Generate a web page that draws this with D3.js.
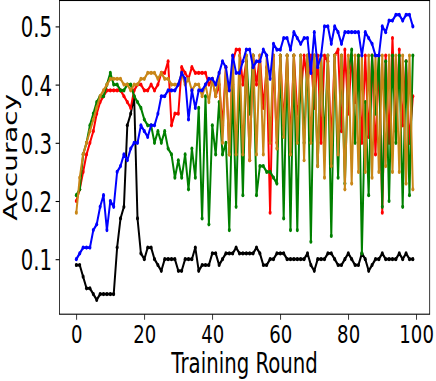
<!DOCTYPE html>
<html><head><meta charset="utf-8">
<script src="https://cdn.jsdelivr.net/npm/d3@7"></script>
<style>html,body{margin:0;padding:0;background:#fff;} svg{display:block;}</style>
</head><body>
<svg id="chart" width="436" height="381"></svg>
<script>
// ---- data (accuracy per training round, rounds 0..99) ----
const blue = [0.10,0.11,0.12,0.12,0.12,0.15,0.16,0.19,0.21,0.15,
  0.20,0.19,0.25,0.26,0.28,0.27,0.29,0.30,0.30,0.33,
  0.32,0.31,0.33,0.33,0.35,0.38,0.38,0.39,0.39,0.39,
  0.40,0.42,0.41,0.34,0.39,0.36,0.39,0.39,0.40,0.41,
  0.41,0.40,0.42,0.44,0.43,0.39,0.45,0.42,0.42,0.44,
  0.46,0.46,0.43,0.44,0.44,0.46,0.45,0.41,0.47,0.46,
  0.46,0.48,0.48,0.46,0.49,0.48,0.47,0.48,0.48,0.42,
  0.49,0.43,0.45,0.50,0.50,0.47,0.50,0.49,0.47,0.49,
  0.49,0.49,0.49,0.49,0.45,0.49,0.48,0.47,0.45,0.45,
  0.50,0.49,0.51,0.51,0.52,0.52,0.51,0.52,0.52,0.50];
const red = [0.20,0.22,0.25,0.28,0.30,0.32,0.35,0.37,0.38,0.39,
  0.39,0.39,0.39,0.39,0.38,0.37,0.36,0.39,0.40,0.40,
  0.39,0.39,0.40,0.39,0.40,0.42,0.42,0.44,0.33,0.35,
  0.35,0.43,0.42,0.41,0.43,0.42,0.42,0.42,0.42,0.40,
  0.41,0.38,0.40,0.33,0.43,0.28,0.44,0.46,0.46,0.40,
  0.44,0.27,0.45,0.40,0.45,0.36,0.43,0.18,0.45,0.30,
  0.45,0.33,0.45,0.30,0.45,0.35,0.38,0.45,0.40,0.45,
  0.36,0.45,0.30,0.45,0.44,0.30,0.45,0.46,0.32,0.46,
  0.35,0.45,0.37,0.45,0.30,0.45,0.31,0.45,0.28,0.45,
  0.18,0.45,0.30,0.48,0.32,0.46,0.33,0.44,0.30,0.38];
const green = [0.21,0.22,0.28,0.30,0.33,0.35,0.37,0.38,0.38,0.40,
  0.42,0.40,0.40,0.39,0.39,0.40,0.40,0.38,0.37,0.36,
  0.34,0.33,0.33,0.30,0.32,0.30,0.32,0.29,0.28,0.24,
  0.27,0.24,0.28,0.22,0.29,0.24,0.36,0.17,0.38,0.16,
  0.33,0.28,0.37,0.28,0.30,0.15,0.40,0.19,0.42,0.21,
  0.45,0.35,0.45,0.21,0.26,0.26,0.25,0.25,0.24,0.23,
  0.45,0.17,0.45,0.15,0.45,0.15,0.45,0.30,0.45,0.13,
  0.45,0.26,0.45,0.30,0.45,0.14,0.45,0.24,0.45,0.23,
  0.42,0.46,0.30,0.45,0.11,0.37,0.21,0.45,0.35,0.45,
  0.19,0.44,0.20,0.45,0.30,0.45,0.19,0.44,0.21,0.45];
const orange = [0.18,0.24,0.28,0.30,0.32,0.34,0.36,0.38,0.39,0.40,
  0.41,0.41,0.41,0.41,0.40,0.40,0.39,0.40,0.40,0.41,
  0.41,0.42,0.42,0.42,0.41,0.42,0.41,0.41,0.40,0.40,
  0.40,0.42,0.40,0.41,0.39,0.40,0.40,0.38,0.40,0.37,
  0.41,0.38,0.42,0.30,0.43,0.28,0.45,0.28,0.45,0.28,
  0.45,0.27,0.45,0.28,0.45,0.28,0.45,0.30,0.45,0.29,
  0.45,0.31,0.45,0.28,0.45,0.30,0.45,0.27,0.45,0.30,
  0.45,0.26,0.45,0.24,0.45,0.26,0.45,0.28,0.45,0.22,
  0.45,0.23,0.45,0.25,0.45,0.25,0.45,0.24,0.45,0.25,
  0.45,0.26,0.45,0.25,0.45,0.25,0.45,0.23,0.45,0.22];
const black = [0.09,0.09,0.07,0.05,0.05,0.04,0.03,0.04,0.04,0.04,
  0.04,0.04,0.12,0.17,0.19,0.33,0.35,0.38,0.17,0.11,
  0.10,0.12,0.12,0.10,0.09,0.08,0.10,0.10,0.10,0.10,
  0.08,0.08,0.10,0.10,0.10,0.12,0.08,0.09,0.09,0.09,
  0.11,0.11,0.09,0.10,0.11,0.11,0.11,0.12,0.11,0.11,
  0.11,0.11,0.11,0.12,0.11,0.09,0.09,0.10,0.10,0.11,
  0.11,0.11,0.10,0.10,0.10,0.10,0.10,0.10,0.11,0.09,
  0.08,0.10,0.10,0.10,0.11,0.11,0.10,0.09,0.09,0.10,
  0.11,0.10,0.09,0.09,0.11,0.10,0.08,0.09,0.10,0.10,
  0.11,0.10,0.10,0.10,0.10,0.11,0.10,0.11,0.10,0.10];
const xTicks = [0, 20, 40, 60, 80, 100];
const yTicks = [0.1, 0.2, 0.3, 0.4, 0.5];
const xLabel = "Training Round";
const yLabel = "Accuracy";

// ---- layout (figure drawn in a wider space then squeezed horizontally) ----
const SX = 0.71;
const pLeft = 59.5 / SX, pRight = 429.7 / SX, pTop = 0.5, pBottom = 314.2;
const FONT = "DejaVu Sans";
const FS = 27.8;
const FSX = 25.5;

const svg = d3.select("#chart");
svg.append("rect").attr("width", 436).attr("height", 381).attr("fill", "#fff");
const g = svg.append("g").attr("transform", `scale(${SX},1)`);

const n = blue.length;
const xPad = (n - 1) * 0.05;
const x = d3.scaleLinear().domain([0 - xPad, (n - 1) + xPad]).range([pLeft, pRight]);
const all = [].concat(blue, red, green, orange, black);
const [mn, mx] = d3.extent(all);
const yPad = (mx - mn) * 0.05;
const y = d3.scaleLinear().domain([mn - yPad, mx + yPad]).range([pBottom, pTop]);

const series = [
  {vals: black, color: "#000000"},
  {vals: red, color: "#ff0000"},
  {vals: green, color: "#008000"},
  {vals: orange, color: "#c98718"},
  {vals: blue, color: "#0000ff"}
];

const clipId = "plotclip";
g.append("clipPath").attr("id", clipId).append("rect")
  .attr("x", pLeft).attr("y", pTop).attr("width", pRight - pLeft).attr("height", pBottom - pTop);

const line = d3.line().x((d, i) => x(i)).y(d => y(d));
const plot = g.append("g").attr("clip-path", `url(#${clipId})`);
series.forEach(s => {
  plot.append("path").datum(s.vals)
    .attr("d", line)
    .attr("fill", "none")
    .attr("stroke", s.color)
    .attr("stroke-width", 2.78)
    .attr("stroke-linejoin", "round")
    .attr("stroke-linecap", "square");
  plot.append("g").selectAll("circle").data(s.vals).join("circle")
    .attr("cx", (d, i) => x(i)).attr("cy", d => y(d)).attr("r", 2.1)
    .attr("fill", s.color);
});

// spines
g.append("rect").attr("x", pLeft).attr("y", pTop).attr("width", pRight - pLeft).attr("height", pBottom - pTop)
  .attr("fill", "none").attr("stroke", "#000").attr("stroke-width", 1.1);

// x axis
const xAxis = d3.axisBottom(x).tickValues(xTicks).tickSize(5.5).tickPadding(4.9).tickFormat(d3.format("d"));
const gx = g.append("g").attr("transform", `translate(0,${pBottom})`).call(xAxis);
gx.select(".domain").remove();
gx.selectAll(".tick line").attr("stroke", "#000").attr("stroke-width", 1.1);
gx.selectAll(".tick text").attr("font-family", FONT).attr("font-size", FSX).attr("fill", "#000")
  .attr("dy", null).attr("y", 28.6).attr("dominant-baseline", "alphabetic");

// y axis
const yAxis = d3.axisLeft(y).tickValues(yTicks).tickSize(5.5).tickPadding(4.9).tickFormat(d3.format(".1f"));
const gy = g.append("g").attr("transform", `translate(${pLeft},0)`).call(yAxis);
gy.select(".domain").remove();
gy.selectAll(".tick line").attr("stroke", "#000").attr("stroke-width", 1.1);
gy.selectAll(".tick text").attr("font-family", FONT).attr("font-size", FS).attr("fill", "#000")
  .attr("dy", null).attr("y", 10.5).attr("dominant-baseline", "alphabetic");

// axis labels
g.append("text").attr("x", (pLeft + pRight) / 2).attr("y", 373.5)
  .attr("text-anchor", "middle").attr("font-family", FONT).attr("font-size", FS).attr("fill", "#000")
  .text(xLabel);
g.append("text").attr("transform", `translate(${16.8 / SX},${(pTop + pBottom) / 2}) rotate(-90)`)
  .attr("text-anchor", "middle").attr("font-family", FONT).attr("font-size", FS).attr("fill", "#000")
  .text(yLabel);
</script>
</body></html>
